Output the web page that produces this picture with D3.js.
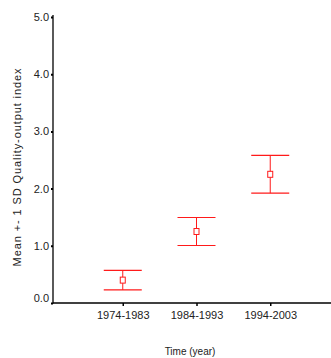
<!DOCTYPE html>
<html>
<head>
<meta charset="utf-8">
<script src="https://cdn.jsdelivr.net/npm/d3@7"></script>
<style>
  html, body { margin: 0; padding: 0; background: #fff; }
  svg { display: block; }
  text { font-family: "Liberation Sans", Arial, sans-serif; fill: #222; }
</style>
</head>
<body>
<svg id="chart" width="331" height="358"></svg>
<script>
// Periods and their quality-output index (mean and one standard deviation)
const periods = ["1974-1983", "1984-1993", "1994-2003"];
const means = [0.40, 1.25, 2.25];
const sds = [0.17, 0.245, 0.33];
const yTicks = [0, 1, 2, 3, 4, 5];

const svg = d3.select("#chart");
const axisX = 53, axisY = 303, axisTop = 15;

const y = d3.scaleLinear().domain([0, 5]).range([303, 17]);
const x = d3.scalePoint().domain(periods).range([axisX, 340]).padding(0.946);

// Y axis
const gy = svg.append("g").attr("transform", `translate(${axisX},0)`)
  .call(d3.axisLeft(y).tickValues(yTicks).tickFormat(d3.format(".1f")).tickSize(2).tickPadding(2));
gy.select(".domain").remove();
gy.selectAll(".tick line").attr("stroke", "#000").attr("stroke-width", 2);
gy.selectAll(".tick text").attr("font-size", 11).attr("fill", "#222")
  .style("font-family", "'Liberation Sans', Arial, sans-serif");
// the bottom label sits a little above the x axis line
gy.selectAll(".tick text").filter(d => d === 0).attr("dy", "-0.1em");
svg.append("line").attr("x1", axisX).attr("x2", axisX).attr("y1", axisTop).attr("y2", axisY + 0.5)
  .attr("stroke", "#000").attr("stroke-width", 1.3);

// X axis
const gx = svg.append("g").attr("transform", `translate(0,${axisY})`)
  .call(d3.axisBottom(x).tickSize(3).tickPadding(5));
gx.select(".domain").remove();
gx.selectAll(".tick line").attr("stroke", "#000").attr("stroke-width", 1.5);
gx.selectAll(".tick text").attr("font-size", 11).attr("fill", "#222")
  .style("font-family", "'Liberation Sans', Arial, sans-serif");
svg.append("line").attr("x1", axisX).attr("x2", 331).attr("y1", axisY).attr("y2", axisY)
  .attr("stroke", "#000").attr("stroke-width", 1.3);

// Error bars: mean ± 1 SD
const red = "#ff1a1a";
const capHalf = 19;
const bars = svg.append("g").selectAll("g").data(periods).join("g");
bars.append("line")
  .attr("x1", d => x(d)).attr("x2", d => x(d))
  .attr("y1", (d, i) => y(means[i] + sds[i])).attr("y2", (d, i) => y(means[i] - sds[i]))
  .attr("stroke", red).attr("stroke-width", 1);
bars.append("line")
  .attr("x1", d => x(d) - capHalf).attr("x2", d => x(d) + capHalf)
  .attr("y1", (d, i) => y(means[i] + sds[i])).attr("y2", (d, i) => y(means[i] + sds[i]))
  .attr("stroke", red).attr("stroke-width", 1.2);
bars.append("line")
  .attr("x1", d => x(d) - capHalf).attr("x2", d => x(d) + capHalf)
  .attr("y1", (d, i) => y(means[i] - sds[i])).attr("y2", (d, i) => y(means[i] - sds[i]))
  .attr("stroke", red).attr("stroke-width", 1.2);
bars.append("rect")
  .attr("x", d => x(d) - 2.5).attr("y", (d, i) => y(means[i]) - 3)
  .attr("width", 5).attr("height", 6)
  .attr("fill", "#fff").attr("stroke", red).attr("stroke-width", 1);

// Axis titles
svg.append("text").attr("x", 190).attr("y", 355).attr("text-anchor", "middle")
  .attr("font-size", 10).text("Time (year)");
svg.append("text").attr("transform", "translate(21,167) rotate(-90)")
  .attr("text-anchor", "middle").attr("font-size", 11).attr("letter-spacing", 0.9)
  .text("Mean +- 1 SD Quality-output index");
</script>
</body>
</html>
